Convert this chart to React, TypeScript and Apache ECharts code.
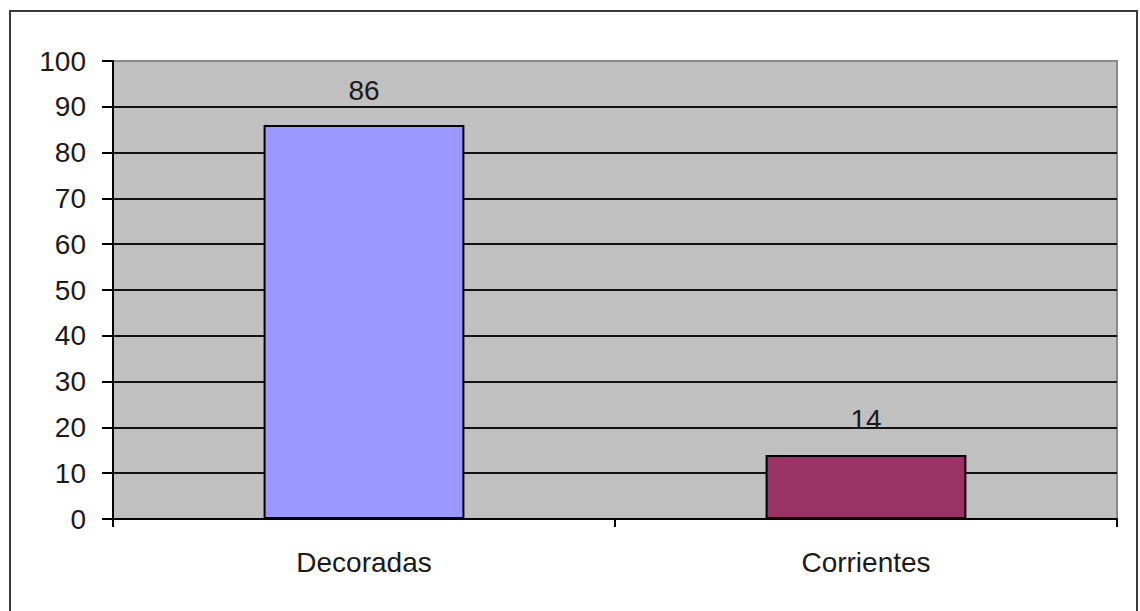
import React, { useEffect, useRef } from "react";
import * as echarts from "echarts";

// Chart data
const categories = ["Decoradas", "Corrientes"];
const values = [86, 14];
const barColors = ["#9999FF", "#993366"];
const yMin = 0;
const yMax = 100;
const yStep = 10;

const FONT = "'Liberation Sans', Arial, sans-serif";

export default function App() {
  const ref = useRef<HTMLDivElement>(null);

  useEffect(() => {
    if (!ref.current) return;
    const chart = echarts.init(ref.current, undefined, { renderer: "svg" });
    chart.setOption({
      animation: false,
      backgroundColor: "#ffffff",
      textStyle: { fontFamily: FONT },
      graphic: [
        {
          type: "rect",
          shape: { x: 10, y: 11, width: 1127, height: 640 },
          style: { fill: "none", stroke: "#3a3a3a", lineWidth: 2 },
          silent: true,
          z: 100,
        },
      ],
      grid: {
        left: 113,
        top: 61,
        right: 23,
        bottom: 92,
        show: true,
        backgroundColor: "#C0C0C0",
        borderColor: "#8a8a8a",
        borderWidth: 2,
      },
      xAxis: {
        type: "category",
        data: categories,
        boundaryGap: true,
        axisLine: { show: true, lineStyle: { color: "#000", width: 2 } },
        axisTick: { show: true, length: 8, inside: false, alignWithLabel: false, lineStyle: { color: "#000", width: 2 } },
        axisLabel: { color: "#1a1a1a", fontSize: 28, fontFamily: FONT, margin: 29 },
        splitLine: { show: false },
      },
      yAxis: {
        type: "value",
        min: yMin,
        max: yMax,
        interval: yStep,
        axisLine: { show: true, lineStyle: { color: "#000", width: 2 } },
        axisTick: { show: true, length: 11, inside: false, lineStyle: { color: "#000", width: 2 } },
        axisLabel: { color: "#1a1a1a", fontSize: 28, fontFamily: FONT, margin: 27 },
        splitLine: { show: true, showMaxLine: false, lineStyle: { color: "#111", width: 2 } },
      },
      series: [
        {
          type: "bar",
          barWidth: "40%",
          data: values.map((v, i) => ({
            value: v,
            itemStyle: { color: barColors[i], borderColor: "#000", borderWidth: 2 },
          })),
          label: {
            show: true,
            position: "top",
            distance: 21,
            color: "#1a1a1a",
            fontSize: 28,
            fontFamily: FONT,
          },
        },
      ],
    });
    return () => chart.dispose();
  }, []);

  return (
    <div
      ref={ref}
      style={{ position: "fixed", left: 0, top: 0, width: 1140, height: 611 }}
    />
  );
}
